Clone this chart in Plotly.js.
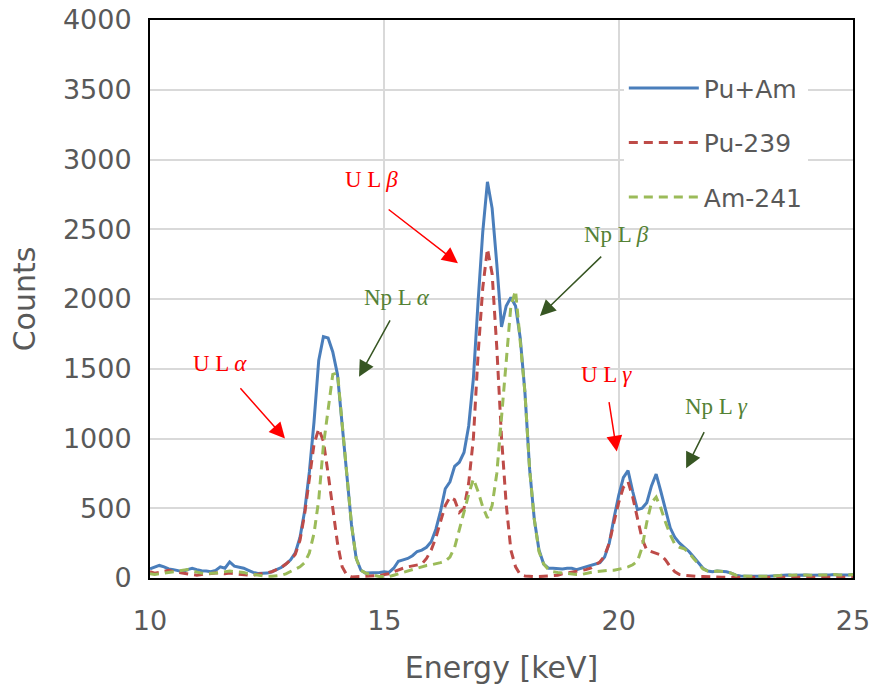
<!DOCTYPE html>
<html>
<head>
<meta charset="utf-8">
<script src="https://cdn.plot.ly/plotly-3.0.1.min.js"></script>
<style>html,body{margin:0;padding:0;background:#fff;}#chart{width:871px;height:689px;}</style>
</head>
<body>
<div id="chart"></div>
<script>
// Energy axis: first channel and channel width (keV)
const energyStart = 10.0;
const energyStep = 0.1;

const seriesNames = ["Pu+Am", "Pu-239", "Am-241"];

// Counts per channel, 10.0 ... 25.0 keV
const puAm = [
  65, 75, 90, 80, 65, 60, 50, 45, 60, 70,
  60, 52, 50, 45, 55, 80, 70, 115, 85, 80,
  70, 55, 40, 33, 33, 35, 45, 60, 75, 100,
  130, 180, 290, 480, 760, 1120, 1560, 1730, 1720, 1620,
  1460, 1100, 760, 380, 140, 55, 35, 35, 35, 40,
  45, 40, 70, 120, 130, 140, 160, 190, 200, 220,
  260, 350, 480, 640, 690, 800, 830, 900, 1090, 1430,
  1980, 2480, 2840, 2650, 2250, 1800, 1950, 2010, 1950, 1720,
  1330, 780, 420, 200, 100, 70, 70, 65, 65, 70,
  70, 60, 70, 85, 95, 100, 110, 150, 250, 430,
  590, 720, 770, 620, 490, 500, 540, 660, 745, 620,
  480, 360, 290, 250, 220, 190, 150, 110, 70, 50,
  45, 50, 50, 45, 35, 20, 15, 12, 12, 12,
  10, 12, 12, 15, 18, 22, 22, 20, 22, 25,
  22, 20, 22, 25, 22, 22, 25, 22, 20, 22,
  25
];

const pu239 = [
  45, 35, 40, 50, 55, 45, 40, 35, 30, 25,
  20, 25, 30, 30, 35, 35, 30, 35, 30, 25,
  20, 20, 20, 25, 30, 40, 45, 60, 75, 100,
  130, 170, 270, 460, 720, 960, 1070, 980, 750, 500,
  250, 80, 20, 8, 8, 10, 12, 15, 15, 18,
  25, 30, 45, 60, 70, 80, 85, 90, 100, 140,
  200, 290, 400, 520, 580, 560, 470, 500, 680, 1000,
  1600, 2080, 2360, 2180, 1650, 1010, 530, 200, 80, 25,
  15, 10, 10, 10, 12, 15, 15, 20, 30, 35,
  40, 45, 50, 60, 70, 90, 115, 160, 250, 400,
  540, 650, 690, 580, 430, 280, 200, 190, 180, 165,
  130, 80, 45, 25, 20, 15, 15, 10, 10, 8,
  8, 8, 6, 6, 5, 5, 5, 5, 5, 5,
  5, 5, 5, 5, 5, 5, 5, 5, 5, 5,
  5, 5, 5, 5, 5, 5, 5, 5, 5, 5,
  5
];

const am241 = [
  30, 25, 30, 35, 40, 40, 45, 55, 60, 50,
  40, 35, 30, 30, 35, 40, 45, 50, 45, 45,
  40, 30, 25, 20, 15, 12, 12, 15, 20, 30,
  45, 60, 80, 110, 180, 320, 560, 950, 1220, 1460,
  1470, 1110, 750, 380, 140, 55, 35, 25, 15, 10,
  10, 10, 20, 30, 45, 55, 65, 75, 85, 90,
  95, 100, 110, 120, 150, 220, 350, 480, 600, 710,
  620, 510, 430, 520, 750, 1150, 1580, 1950, 2060, 1720,
  1330, 780, 420, 190, 100, 60, 45, 40, 35, 35,
  30, 25, 25, 35, 40, 45, 50, 50, 55, 55,
  60, 70, 80, 95, 120, 220, 400, 540, 580, 500,
  400, 310, 240, 220, 210, 180, 140, 100, 65, 50,
  45, 50, 50, 45, 35, 20, 15, 12, 12, 12,
  10, 12, 12, 15, 18, 22, 22, 20, 22, 25,
  22, 20, 22, 25, 22, 22, 25, 22, 20, 22,
  25
];

// Peak labels: text, label position [keV, counts], arrow tail and tip [keV, counts]
const peakLabels  = ["U L <i>α</i>", "Np L <i>α</i>", "U L <i>β</i>", "Np L <i>β</i>", "U L <i>γ</i>", "Np L <i>γ</i>"];
const labelIsU    = [true, false, true, false, true, false];
const labelPos    = [[11.49, 1536], [15.26, 2014], [14.72, 2857], [19.96, 2464], [19.73, 1457], [22.08, 1229]];
const arrowTail   = [[11.90, 1371], [15.14, 1857], [15.06, 2650], [19.66, 2314], [19.79, 1271], [21.84, 1057]];
const arrowTip    = [[12.88, 1000], [14.46, 1443], [16.57, 2257], [18.32, 1879], [19.96, 907], [21.44, 786]];

const gray = "#595959";
const traces = [
  {y: puAm, name: seriesNames[0], legendgroup: "a", line: {color: "#4a7ebb", width: 3}},
  {y: pu239, name: seriesNames[1], legendgroup: "b", line: {color: "#be4b48", width: 3, dash: "9px,6px"}},
  {y: am241, name: seriesNames[2], legendgroup: "c", line: {color: "#9bbb59", width: 3, dash: "9px,6px"}}
].map(t => Object.assign({type: "scatter", mode: "lines", x0: energyStart, dx: energyStep, hoverinfo: "skip"}, t));

const annotations = [];
peakLabels.forEach((txt, i) => {
  annotations.push({
    text: txt, x: labelPos[i][0], y: labelPos[i][1], xref: "x", yref: "y",
    showarrow: false,
    font: {family: "Liberation Serif, DejaVu Serif, serif", size: 23, color: labelIsU[i] ? "#ff0000" : "#548235"}
  });
  annotations.push({
    text: "", x: arrowTip[i][0], y: arrowTip[i][1], xref: "x", yref: "y",
    ax: arrowTail[i][0], ay: arrowTail[i][1], axref: "x", ayref: "y",
    showarrow: true, arrowhead: 2, arrowsize: 2.1, arrowwidth: 1.5, standoff: 0,
    arrowcolor: labelIsU[i] ? "#ff0000" : "#375623"
  });
});

const layout = {
  width: 871, height: 689,
  margin: {l: 150, r: 18, t: 20, b: 111},
  paper_bgcolor: "#ffffff", plot_bgcolor: "#ffffff",
  font: {family: "DejaVu Sans, sans-serif", color: gray},
  xaxis: {
    range: [10, 25], dtick: 5, tick0: 10,
    showgrid: true, gridcolor: "#d9d9d9", gridwidth: 2,
    zeroline: false, showline: true, linecolor: "#000000", linewidth: 2, mirror: true,
    ticks: "", ticklabelstandoff: 18,
    tickfont: {size: 27, color: gray},
    title: {text: "Energy [keV]", font: {size: 30, color: gray}, standoff: 22}
  },
  yaxis: {
    range: [0, 4000], dtick: 500, tick0: 0,
    showgrid: true, gridcolor: "#d9d9d9", gridwidth: 2,
    zeroline: false, showline: true, linecolor: "#000000", linewidth: 2, mirror: true,
    ticks: "", ticklabelstandoff: 11,
    tickfont: {size: 27, color: gray},
    title: {text: "Counts", font: {size: 30, color: gray}, standoff: 18}
  },
  legend: {
    x: 0.674, y: 0.919, xanchor: "left", yanchor: "top",
    bgcolor: "#ffffff", borderwidth: 0,
    font: {size: 25, color: gray},
    traceorder: "grouped", tracegroupgap: 19, itemwidth: 70
  },
  showlegend: true,
  annotations: annotations
};

Plotly.newPlot("chart", traces, layout, {staticPlot: true, displayModeBar: false});
</script>
</body>
</html>
